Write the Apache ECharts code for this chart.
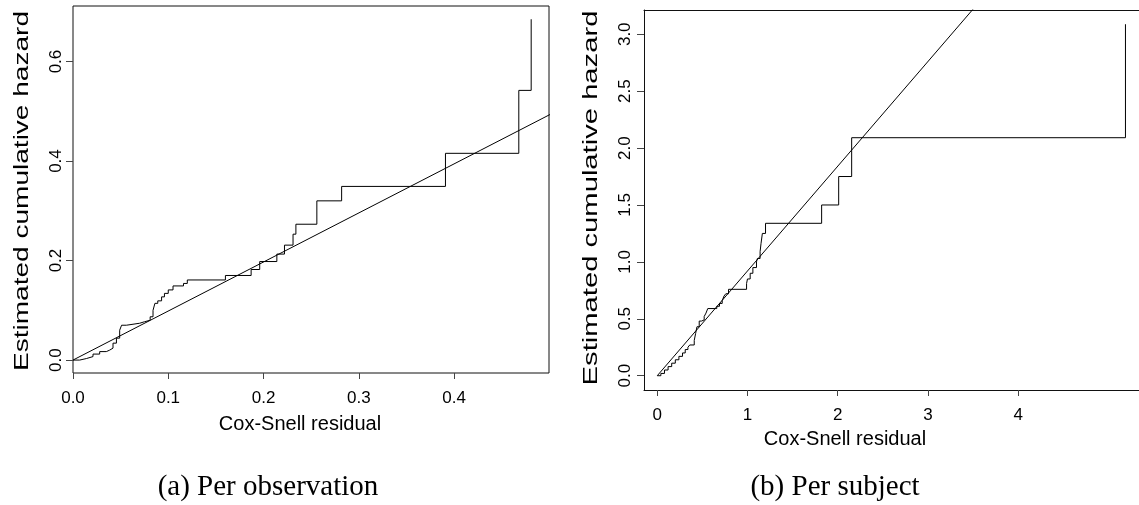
<!DOCTYPE html>
<html>
<head>
<meta charset="utf-8">
<script src="https://cdn.jsdelivr.net/npm/echarts@6/dist/echarts.min.js"></script>
<style>
html,body{margin:0;padding:0;background:#fff;}
#chart{width:1139px;height:505px;}
</style>
</head>
<body>
<div id="chart"></div>
<script>
// ---- Panel (a): per observation ----
const obsResidual = [0, 0.007, 0.014, 0.021, 0.028, 0.035, 0.0385, 0.042, 0.0456, 0.049, 0.051, 0.056, 0.070, 0.075, 0.081, 0.084, 0.086, 0.089, 0.093, 0.096, 0.100, 0.105, 0.116, 0.120, 0.160, 0.187, 0.196, 0.214, 0.222, 0.231, 0.234, 0.256, 0.282, 0.391, 0.468, 0.481];
const obsHazard   = [0, 0.003, 0.007, 0.012, 0.017, 0.020, 0.024, 0.034, 0.044, 0.060, 0.070, 0.074, 0.077, 0.080, 0.087, 0.100, 0.114, 0.119, 0.127, 0.134, 0.141, 0.149, 0.154, 0.161, 0.170, 0.182, 0.198, 0.213, 0.231, 0.253, 0.273, 0.320, 0.349, 0.4155, 0.542, 0.685];
const obsFitX = [0, 0.52];
const obsFitY = [0, 0.5125];
const obsXTicks = [0, 0.1, 0.2, 0.3, 0.4];
const obsYTicks = [0, 0.2, 0.4, 0.6];

// ---- Panel (b): per subject ----
const subjResidual = [0, 0.04, 0.08, 0.12, 0.16, 0.20, 0.24, 0.28, 0.31, 0.34, 0.36, 0.41, 0.425, 0.44, 0.465, 0.49, 0.52, 0.54, 0.56, 0.66, 0.69, 0.72, 0.74, 0.76, 0.79, 0.99, 1.00, 1.03, 1.06, 1.10, 1.11, 1.14, 1.15, 1.165, 1.20, 1.822, 2.011, 2.155, 5.19];
const subjHazard   = [0, 0.02, 0.05, 0.08, 0.11, 0.14, 0.17, 0.20, 0.23, 0.25, 0.27, 0.31, 0.37, 0.43, 0.48, 0.49, 0.52, 0.55, 0.59, 0.61, 0.635, 0.66, 0.70, 0.72, 0.759, 0.81, 0.85, 0.90, 0.95, 1.00, 1.03, 1.09, 1.16, 1.25, 1.339, 1.50, 1.75, 2.091, 3.088];
const subjFitX = [0, 3.6];
const subjFitY = [0, 3.312];
const subjXTicks = [0, 1, 2, 3, 4];
const subjYTicks = [0, 0.5, 1.0, 1.5, 2.0, 2.5, 3.0];

const xTitle = 'Cox-Snell residual';
const yTitle = 'Estimated cumulative hazard';
const captionA = '(a) Per observation';
const captionB = '(b) Per subject';

function pairs(xs, ys) { return xs.map((x, i) => [x, ys[i]]); }

const SANS = '"Liberation Sans", Arial, sans-serif';
const SERIF = '"Liberation Serif", "Times New Roman", serif';
const LINE = { color: '#111', width: 1 };

function xAxisCfg(gi, min, max, ticks, fmt, showLine) {
  return {
    type: 'value', gridIndex: gi, min: min, max: max,
    axisLine: { show: showLine, onZero: false, lineStyle: LINE },
    splitLine: { show: false },
    axisTick: { show: true, inside: false, length: 6, customValues: ticks, lineStyle: { color: '#444', width: 1 } },
    axisLabel: { customValues: ticks, formatter: fmt, fontSize: 17, fontFamily: SANS, color: '#000', margin: 17 }
  };
}
function yAxisCfg(gi, min, max, ticks, fmt, margin, showLine) {
  return {
    type: 'value', gridIndex: gi, min: min, max: max,
    axisLine: { show: showLine, onZero: false, lineStyle: LINE },
    splitLine: { show: false },
    axisTick: { show: true, inside: false, length: 7, customValues: ticks, lineStyle: { color: '#444', width: 1 } },
    axisLabel: { customValues: ticks, formatter: fmt, rotate: 90, fontSize: 17, fontFamily: SANS, color: '#000', margin: margin }
  };
}

const subjXMin = -0.147, subjXMax = 5.34;

const chart = echarts.init(document.getElementById('chart'), null, { renderer: 'canvas' });
chart.setOption({
  animation: false,
  backgroundColor: '#fff',
  grid: [
    { left: 73, top: 6, right: 590, bottom: 132, show: true, borderColor: '#111', borderWidth: 1, backgroundColor: 'transparent' },
    { left: 644, top: 10, right: 0, bottom: 115, show: false }
  ],
  xAxis: [
    xAxisCfg(0, 0, 0.4997, obsXTicks, v => v.toFixed(1), false),
    xAxisCfg(1, subjXMin, subjXMax, subjXTicks, v => String(Math.round(v)), true),
    { type: 'value', gridIndex: 1, position: 'top', min: subjXMin, max: subjXMax,
      axisLine: { show: true, onZero: false, lineStyle: LINE },
      axisTick: { show: false }, axisLabel: { show: false }, splitLine: { show: false } }
  ],
  yAxis: [
    yAxisCfg(0, -0.026, 0.7116, obsYTicks, v => v.toFixed(1), 8, false),
    yAxisCfg(1, -0.1256, 3.213, subjYTicks, v => v.toFixed(1), 10, true)
  ],
  series: [
    { type: 'line', xAxisIndex: 0, yAxisIndex: 0, data: pairs(obsResidual, obsHazard), step: 'end', symbol: 'none', clip: true,
      lineStyle: { color: '#000', width: 1 } },
    { type: 'line', xAxisIndex: 0, yAxisIndex: 0, data: pairs(obsFitX, obsFitY), symbol: 'none', clip: true,
      lineStyle: { color: '#000', width: 1 } },
    { type: 'line', xAxisIndex: 1, yAxisIndex: 1, data: pairs(subjResidual, subjHazard), step: 'end', symbol: 'none', clip: true,
      lineStyle: { color: '#000', width: 1 } },
    { type: 'line', xAxisIndex: 1, yAxisIndex: 1, data: pairs(subjFitX, subjFitY), symbol: 'none', clip: true,
      lineStyle: { color: '#000', width: 1 } }
  ],
  graphic: [
    { type: 'text', x: 300, y: 424, style: { text: xTitle, fontSize: 20, fontFamily: SANS, fill: '#000', align: 'center', verticalAlign: 'middle' } },
    { type: 'text', x: 845, y: 439, style: { text: xTitle, fontSize: 20, fontFamily: SANS, fill: '#000', align: 'center', verticalAlign: 'middle' } },
    { type: 'text', x: 22, y: 191, rotation: Math.PI / 2, scaleX: 1.335, style: { text: yTitle, fontSize: 21, fontFamily: SANS, fill: '#000', align: 'center', verticalAlign: 'middle' } },
    { type: 'text', x: 591, y: 198, rotation: Math.PI / 2, scaleX: 1.39, style: { text: yTitle, fontSize: 21, fontFamily: SANS, fill: '#000', align: 'center', verticalAlign: 'middle' } },
    { type: 'text', x: 268, y: 487, style: { text: captionA, fontSize: 29, fontFamily: SERIF, fill: '#000', align: 'center', verticalAlign: 'middle' } },
    { type: 'text', x: 835, y: 487, style: { text: captionB, fontSize: 29, fontFamily: SERIF, fill: '#000', align: 'center', verticalAlign: 'middle' } }
  ]
});
</script>
</body>
</html>
